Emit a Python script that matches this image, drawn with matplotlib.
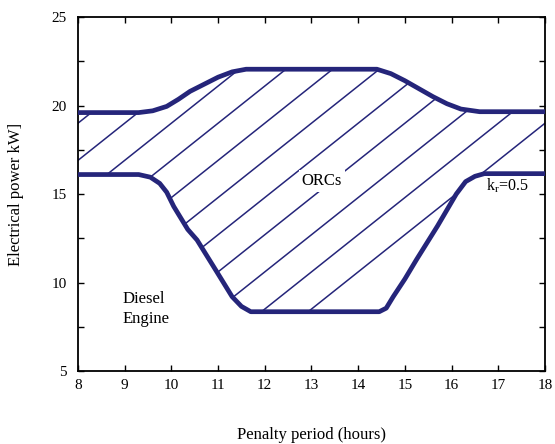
import numpy as np
import matplotlib as mpl
mpl.use('Agg')
import matplotlib.pyplot as plt
from matplotlib.patches import Polygon

#
#--- data: ORC power band (upper) and diesel engine share (lower)
#
hours_upper = [8.0, 9.3, 9.6, 9.9, 10.15, 10.4, 10.7, 11.0, 11.3, 11.6, 14.4, 14.7, 15.0,
               15.3, 15.6, 15.9, 16.2, 16.6, 18.0]
kw_upper    = [19.6, 19.6, 19.7, 19.95, 20.35, 20.8, 21.2, 21.6, 21.9, 22.05, 22.05, 21.8, 21.4,
               20.95, 20.5, 20.1, 19.8, 19.65, 19.65]

hours_lower = [8.0, 9.3, 9.55, 9.75, 9.9, 10.05, 10.35, 10.55, 10.95, 11.3, 11.5, 11.7, 14.45,
               14.6, 14.75, 15.0, 15.25, 15.7, 16.1, 16.3, 16.5, 16.7, 18.0]
kw_lower    = [16.1, 16.1, 15.95, 15.6, 15.1, 14.3, 13.0, 12.4, 10.7, 9.2, 8.65, 8.35, 8.35,
               8.55, 9.2, 10.2, 11.3, 13.2, 15.0, 15.7, 16.0, 16.15, 16.15]

xticks = list(range(8, 19))
yticks = [5, 10, 15, 20, 25]

line_col = '#25257a'

#
#--- general look: times like font
#
plt.rcParams['font.family'] = 'Liberation Serif'
plt.rcParams['mathtext.fontset'] = 'stix'

fig = plt.figure(figsize=(5.55, 4.44), dpi=100)
ax  = fig.add_axes([0.1405, 0.1644, 0.8415, 0.7973])
ax.set_xlim(8, 18)
ax.set_ylim(5, 25)

#
#--- region between the two curves, used to clip the hatch lines
#
verts = list(zip(hours_upper, kw_upper)) + list(zip(hours_lower[::-1], kw_lower[::-1]))
region = Polygon(verts, closed=True, facecolor='none', edgecolor='none')
ax.add_patch(region)

#
#--- hand-drawn looking hatch lines
#
slope = 2.1
hx    = np.array([7.0, 19.0])
for b in np.arange(19.0, -2.5, -2.1):
    hl, = ax.plot(hx, b + slope * (hx - 8), color=line_col, lw=1.1, zorder=2)
    hl.set_clip_path(region)

#
#--- the two boundary curves
#
ax.plot(hours_upper, kw_upper, color=line_col, lw=3.4, solid_joinstyle='round', zorder=4)
ax.plot(hours_lower, kw_lower, color=line_col, lw=3.4, solid_joinstyle='round', zorder=4)

#
#--- labels inside the plot
#
ax.text(13.22, 15.75, 'ORCs', fontsize=12, ha='center', va='center', zorder=3,
        bbox=dict(facecolor='white', edgecolor='none', pad=2))
ax.text(17.2, 15.45, r'k$_\mathregular{r}$=0.5', fontsize=11.5, ha='center', va='center')
ax.text(8.95, 8.5, 'Diesel\nEngine', fontsize=12, ha='left', va='center', linespacing=1.3)

#
#--- axes, ticks
#
ax.set_xticks(xticks)
ax.set_yticks(yticks)
ax.set_yticks([7.5, 12.5, 17.5, 22.5], minor=True)
ax.tick_params(axis='both', which='both', direction='in', top=True, right=True,
               labelsize=11, width=1.0, length=4)
ax.tick_params(axis='x', which='major', pad=6)
ax.tick_params(axis='y', which='major', pad=8)
for sp in ax.spines.values():
    sp.set_linewidth(1.3)

ax.set_xlabel('Penalty period (hours)', fontsize=12, labelpad=25)
ax.set_ylabel('Electrical power kW]', fontsize=12, labelpad=20)

plt.savefig('out.png', dpi=100)
